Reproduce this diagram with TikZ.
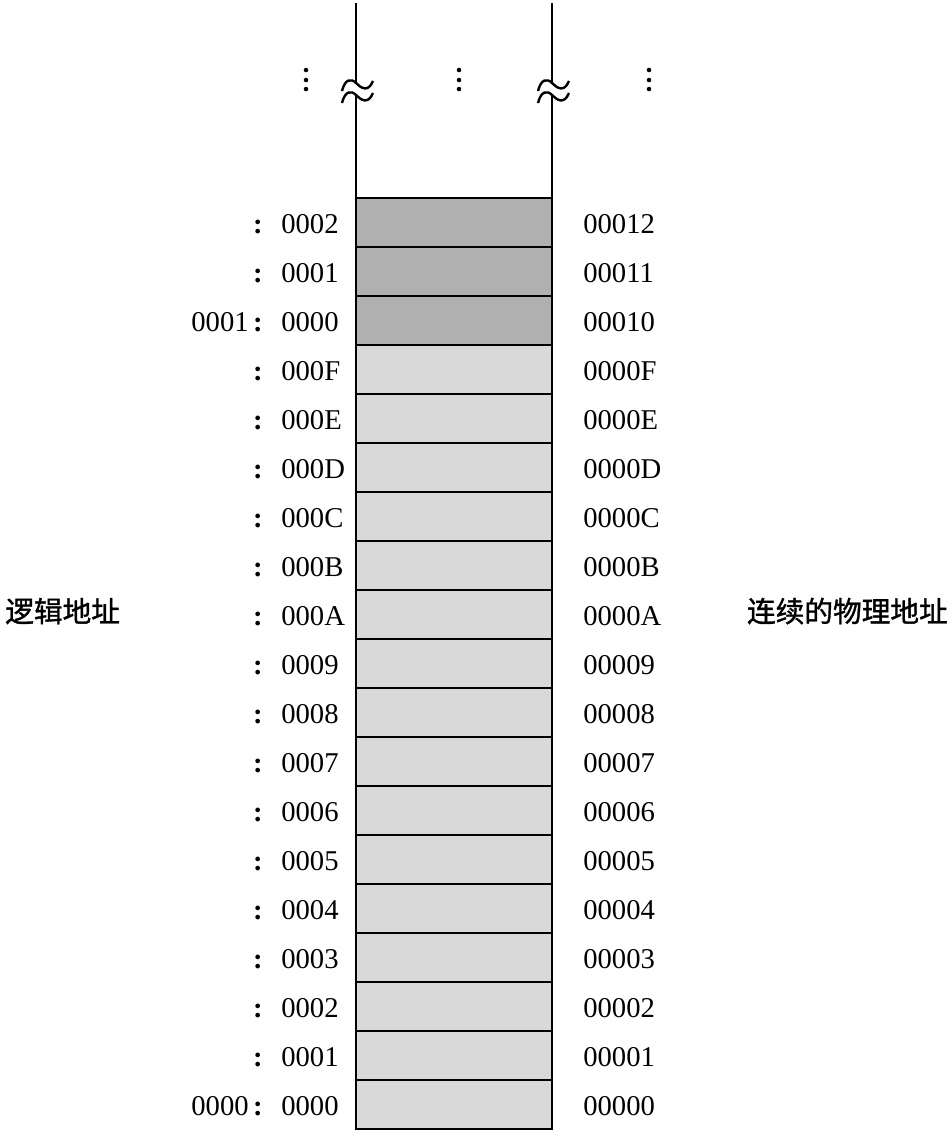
\documentclass[tikz,border=0pt]{standalone}
\usepackage{fontspec}
\setmainfont{Liberation Serif}
\newfontfamily\cjk{Noto Sans CJK SC}[FakeBold=1.2]
\definecolor{cellLight}{RGB}{217,217,217}
\definecolor{cellDark}{RGB}{176,176,176}
\begin{document}
\begin{tikzpicture}[x=0.75pt,y=-0.75pt]
\tikzset{
  cellbox/.style={draw=black, line width=1.5pt, minimum width=147pt, minimum height=36.75pt, inner sep=0pt, outer sep=0pt},
  numtxt/.style={inner sep=0pt, font=\fontsize{21.5}{25}\selectfont},
  cjktxt/.style={inner sep=0pt, font=\fontsize{21.5}{25}\selectfont\cjk},
  wall/.style={line width=1.5pt},
  brk/.style={line width=1.8pt},
  vdot/.style={fill=black, draw=none, circle, minimum size=3.4pt, inner sep=0pt}
}
\useasboundingbox (0,0) rectangle (952,1136);
% cells
\foreach \i in {0,...,15}{
  \node[cellbox, fill=cellLight] (c\i) at (454, {1104.5-49*\i}) {};
}
\foreach \i in {16,17,18}{
  \node[cellbox, fill=cellDark] (c\i) at (454, {1104.5-49*\i}) {};
}
% labels
\foreach \i/\l/\r in {0/0000/00000,1/0001/00001,2/0002/00002,3/0003/00003,4/0004/00004,5/0005/00005,6/0006/00006,7/0007/00007,8/0008/00008,9/0009/00009,10/000A/0000A,11/000B/0000B,12/000C/0000C,13/000D/0000D,14/000E/0000E,15/000F/0000F,16/0000/00010,17/0001/00011,18/0002/00012}{
  \node[numtxt, anchor=base west] (l\i) at (281, {1115-49*\i}) {\l};
  \node[numtxt, anchor=base] (k\i) at (258, {1115-49*\i}) {\textbf{:}};
  \node[numtxt, anchor=base west] (r\i) at (583, {1115-49*\i}) {\r};
}
\node[numtxt, anchor=base east] (p0) at (249, 1115) {0000};
\node[numtxt, anchor=base east] (p16) at (249, {1115-49*16}) {0001};
% side captions
\node[cjktxt, anchor=base west] (logical) at (5, 622) {逻辑地址};
\node[cjktxt, anchor=base east] (physical) at (948, 622) {连续的物理地址};
% walls with breaks
\foreach \x/\n in {356/L,552/R}{
  \coordinate (top\n) at (\x,3);
  \coordinate (b1\n) at (\x,83);
  \coordinate (b2\n) at (\x,95);
  \draw[wall] (top\n) -- (b1\n);
  \draw[wall] (b2\n) -- (\x,198);
  \draw[brk] (\x-14,91) .. controls (\x-11,79) and (\x-5,78) .. (\x,83) .. controls (\x+5,88) and (\x+12,93) .. (\x+17,81);
  \draw[brk] (\x-14,103) .. controls (\x-11,91) and (\x-5,90) .. (\x,95) .. controls (\x+5,100) and (\x+12,105) .. (\x+17,93);
}
% vertical ellipses
\foreach \x in {306,459,649}{
  \foreach \y in {70,80,89}{
    \node[vdot] at (\x,\y) {};
  }
}
\end{tikzpicture}
\end{document}
